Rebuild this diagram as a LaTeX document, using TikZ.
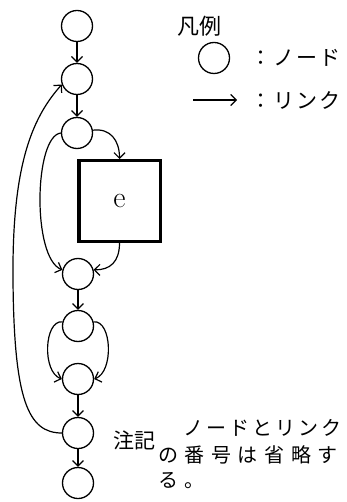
\documentclass[tikz,border=0pt]{standalone}
\usepackage{fontspec}
\newfontfamily\jpfont{Noto Sans CJK JP}
\newfontfamily\jpsoft[LetterSpace=10]{Noto Sans CJK JP}
\newfontfamily\jpwide[LetterSpace=15]{Noto Sans CJK JP}
\newfontfamily\jpwider[LetterSpace=33]{Noto Sans CJK JP}
\usetikzlibrary{arrows.meta}
\begin{document}
\begin{tikzpicture}[x=1pt,y=-1pt,
  nd/.style={circle, draw, line width=1.3pt, minimum size=31pt, inner sep=0pt},
  lk/.style={-{Straight Barb[length=5.5pt,width=11pt,line width=1.2pt]}, line width=1.2pt},
  blk/.style={draw, line width=3.5pt, minimum width=81.5pt, minimum height=80.5pt, inner sep=0pt},
  jp/.style={inner sep=0pt, font=\jpfont\fontsize{21}{24}\selectfont},
  lgtxt/.style={inner sep=0pt, anchor=base west, font=\jpsoft\fontsize{21}{24}\selectfont},
  note/.style={inner sep=0pt, anchor=base west}]
\useasboundingbox (0,0) rectangle (346,502);

% chain of nodes
\node[nd] (c1) at (77,26) {};
\node[nd] (c2) at (77,79) {};
\node[nd] (c3) at (77,133) {};
\node[blk] (e) at (119.5,201) {\fontsize{30}{30}\selectfont e};
\node[nd] (c4) at (78,274) {};
\node[nd] (c5) at (78,326) {};
\node[nd] (c6) at (78,379) {};
\node[nd] (c7) at (78,433) {};
\node[nd] (c8) at (78,483) {};

% links
\draw[lk] (c1.south) -- (c2.north);
\draw[lk] (c2.south) -- (c3.north);
\draw[lk] (c3.10) .. controls (110,128) and (119.5,140) .. (e.north);
\draw[lk] (e.south) .. controls (119.5,262) and (110,270) .. (c4.15);
\draw[lk] (c3.west) .. controls (34,136) and (32,258) .. (c4.165);
\draw[lk] (c4.south) -- (c5.north);
\draw[lk] (c5.165) .. controls (44,320) and (42,372) .. (c6.west);
\draw[lk] (c5.15) .. controls (112,320) and (114,372) .. (c6.east);
\draw[lk] (c6.south) -- (c7.north);
\draw[lk] (c7.south) -- (c8.north);
\draw[lk] (c7.west) .. controls (28,433) and (14,400) .. (13,280)
                    .. controls (12,170) and (30,120) .. (c2.200);

% legend
\node[jp, font=\jpfont\fontsize{22}{24}\selectfont] (lgtitle) at (199.5,26) {凡例};
\node[nd] (lgnode) at (214,58) {};
\coordinate (lga) at (193,100);
\coordinate (lgb) at (237,100);
\draw[lk] (lga) -- (lgb);
\node[lgtxt] (lgnodetxt) at (250,66) {：ノード};
\node[lgtxt] (lglinktxt) at (250,109) {：リンク};

% note
\node[jp, anchor=base] (notehead) at (134,448) {注記};
\node[note, font=\jpwide\fontsize{20}{22}\selectfont] (note1) at (183,435.5) {ノードとリンク};
\node[note, font=\jpwider\fontsize{20}{22}\selectfont] (note2) at (158,462.5) {の番号は省略す};
\node[note, font=\jpwider\fontsize{20}{22}\selectfont] (note3) at (158,487) {る。};
\end{tikzpicture}
\end{document}
